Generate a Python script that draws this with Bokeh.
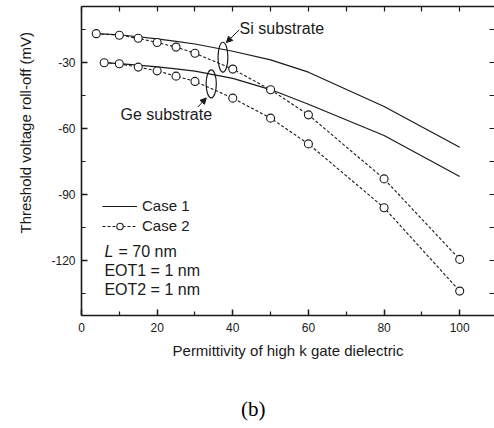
from bokeh.plotting import figure
from bokeh.models import (LinearAxis, Range1d, Label, Arrow, NormalHead, Legend,
                          LegendItem, FixedTicker, Title, Div)
from bokeh.layouts import column
from bokeh.embed import file_html
from bokeh.resources import INLINE

# ---------------- data ----------------
x_si = [3.9, 10, 15, 20, 25, 30, 40, 50, 60, 80, 100]
x_ge = [6, 10, 15, 20, 25, 30, 40, 50, 60, 80, 100]
si_case1 = [-16.9, -17.4, -18.3, -19.3, -20.4, -21.6, -24.9, -28.8, -34.4, -50.0, -68.5]
ge_case1 = [-30.1, -30.5, -31.2, -32.0, -32.9, -33.9, -37.2, -42.3, -49.0, -63.2, -81.8]
si_case2 = [-16.9, -17.6, -19.0, -20.9, -23.0, -25.8, -33.0, -42.4, -53.8, -82.9, -119.5]
ge_case2 = [-30.1, -30.6, -32.1, -33.8, -36.2, -38.6, -46.2, -55.3, -67.0, -96.0, -133.9]

x_major = [0, 20, 40, 60, 80, 100]
x_minor = [10, 30, 50, 70, 90]
y_major = [-30, -60, -90, -120]
y_minor = [-15, -45, -75, -105, -135]
y_tick_labels = {v: str(v) for v in y_major}

FONT = "Liberation Sans"
INK = "#1a1a1a"

p = figure(width=494, height=372, output_backend="svg", toolbar_location=None,
           x_range=Range1d(0, 109.2), y_range=Range1d(-145, -4.55),
           x_axis_location=None, y_axis_location=None,
           min_border_left=79, min_border_right=0, min_border_top=6,
           min_border_bottom=57)
p.outline_line_color = None
p.xgrid.visible = False
p.ygrid.visible = False
p.background_fill_color = "white"
p.border_fill_color = "white"


def make_axis(major, minor, line=True):
    ax = LinearAxis(ticker=FixedTicker(ticks=major, minor_ticks=minor))
    ax.major_tick_in = 6
    ax.major_tick_out = 0
    ax.minor_tick_in = 4
    ax.minor_tick_out = 0
    ax.major_tick_line_width = 1.5
    ax.minor_tick_line_width = 1.2
    ax.major_tick_line_color = INK
    ax.minor_tick_line_color = INK
    ax.axis_line_width = 1.6
    ax.axis_line_color = INK if line else None
    ax.major_label_text_font = FONT
    ax.major_label_text_font_size = "12px"
    ax.major_label_text_color = INK
    return ax


bottom = make_axis(x_major, x_minor)
bottom.major_label_standoff = 7
bottom.axis_label = "Permittivity of high k gate dielectric"
bottom.axis_label_text_font = FONT
bottom.axis_label_text_font_size = "15px"
bottom.axis_label_text_font_style = "normal"
bottom.axis_label_text_color = INK
bottom.axis_label_standoff = 7
p.add_layout(bottom, "below")

# mirrored tick marks (no labels) on top and right
top = make_axis([], sorted(x_major + x_minor))
top.minor_tick_in = 5
p.add_layout(top, "above")

left = make_axis(y_major, y_minor)
left.major_label_standoff = 6
left.major_label_overrides = y_tick_labels
p.add_layout(left, "left")

right = make_axis([], sorted(y_major + y_minor), line=False)
right.minor_tick_in = 5
p.add_layout(right, "right")

ylab = Title(text="Threshold voltage roll-off (mV)", align="left", offset=82,
             standoff=29, text_font=FONT, text_font_size="15px",
             text_font_style="normal", text_color=INK)
p.add_layout(ylab, "left")

# ---------------- series ----------------
l1 = p.line(x_si, si_case1, line_color=INK, line_width=1.2)
p.line(x_ge, ge_case1, line_color=INK, line_width=1.2)
d1 = p.line(x_si, si_case2, line_color=INK, line_width=1.1, line_dash="3 2")
p.line(x_ge, ge_case2, line_color=INK, line_width=1.1, line_dash="3 2")
s1 = p.scatter(x_si, si_case2, marker="circle", size=8, fill_color="white",
               line_color=INK, line_width=1.1)
p.scatter(x_ge, ge_case2, marker="circle", size=8, fill_color="white",
          line_color=INK, line_width=1.1)

legend = Legend(items=[LegendItem(label="Case 1", renderers=[l1]),
                       LegendItem(label="Case 2", renderers=[d1, s1])],
                location=(21, 81), glyph_width=35, glyph_height=16, label_height=16,
                label_standoff=5, spacing=3, padding=0, margin=0,
                border_line_color=None, background_fill_alpha=0,
                label_text_font=FONT, label_text_font_size="15px",
                label_text_color=INK)
p.add_layout(legend)

# ---------------- annotations ----------------
p.ellipse(x=[37.4], y=[-27.6], width=[2.6], height=[13.6], fill_color=None,
          line_color=INK, line_width=1.2)
p.ellipse(x=[34.3], y=[-39.7], width=[2.7], height=[12.7], fill_color=None,
          line_color=INK, line_width=1.2)

p.add_layout(Arrow(end=NormalHead(size=6, fill_color=INK, line_color=INK),
                   x_start=41.7, y_start=-15.2, x_end=38.3, y_end=-20.9,
                   line_color=INK, line_width=1))
p.add_layout(Arrow(end=NormalHead(size=6, fill_color=INK, line_color=INK),
                   x_start=30.8, y_start=-50.2, x_end=33.0, y_end=-46.1,
                   line_color=INK, line_width=1))


def lab(x, y, text, size="16px", **kw):
    kw.setdefault("text_font", FONT)
    kw.setdefault("text_baseline", "middle")
    p.add_layout(Label(x=x, y=y, text=text, text_font_size=size,
                       text_color=INK, **kw))


lab(41.8, -14.5, "Si substrate")
lab(10.3, -53.6, "Ge substrate")
lab(6.05, -115.9, "L", text_font_style="italic")
lab(9.8, -115.9, "= 70 nm")
lab(6.05, -124.5, "EOT1 = 1 nm")
lab(6.05, -133.2, "EOT2 = 1 nm")

caption = Div(text='<div style="padding:20px 0 0 236px; font:21px/24px '
                   '\'Liberation Serif\', serif; color:#000;">(b)</div>',
              width=494, height=56)

layout = column(p, caption, spacing=0)
open("out.html", "w").write(file_html(layout, INLINE))
